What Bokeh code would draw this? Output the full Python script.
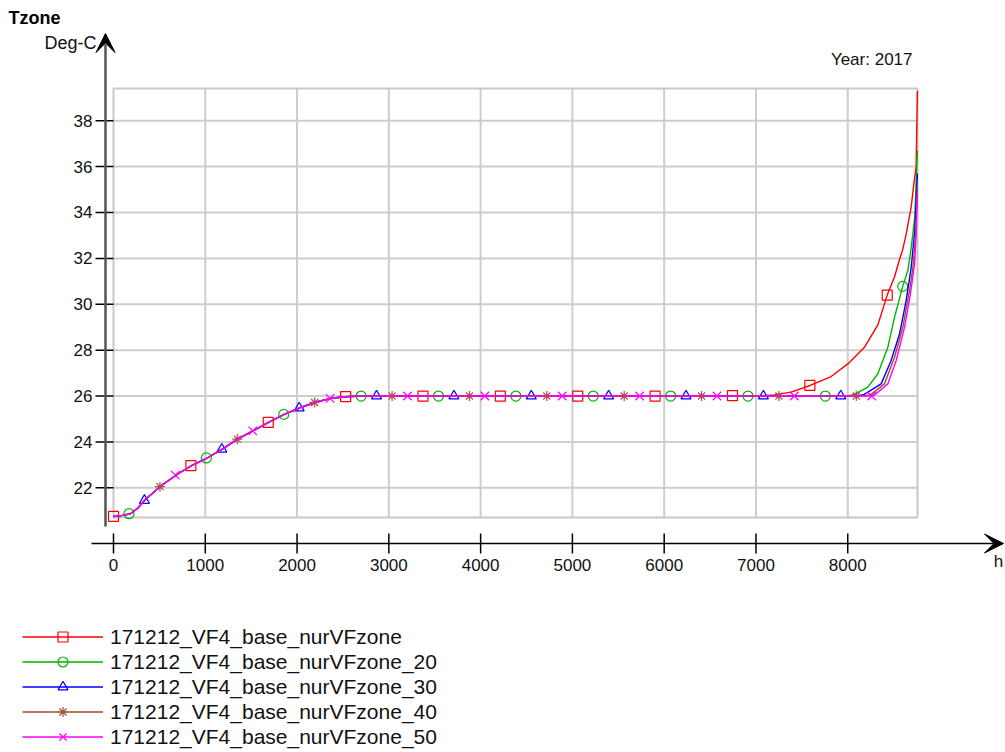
from bokeh.plotting import figure
from bokeh.models import Range1d, Legend, LegendItem, Label, Arrow, VeeHead
from bokeh.core.properties import value
from bokeh.embed import file_html
from bokeh.resources import INLINE

# ---------------- data ----------------
series_names = ["171212_VF4_base_nurVFzone", "171212_VF4_base_nurVFzone_20",
                "171212_VF4_base_nurVFzone_30", "171212_VF4_base_nurVFzone_40",
                "171212_VF4_base_nurVFzone_50"]
series_colors = ["#FF0000", "#00B400", "#0000FF", "#A0522D", "#FF00FF"]

# common start-up part (all five runs coincide), hours / deg-C
common_h = [0, 100, 185, 260, 350, 530, 700, 850, 1030, 1190, 1350, 1530, 1690,
            1860, 2040, 2210, 2370, 2530, 2700]
common_t = [20.75, 20.80, 20.87, 21.10, 21.50, 22.12, 22.60, 22.97, 23.32, 23.70,
            24.12, 24.50, 24.85, 25.20, 25.50, 25.74, 25.90, 25.97, 26.00]

# end-of-year tails of each run
red_tail_h = [7000, 7200, 7383, 7590, 7819, 8001, 8183, 8328, 8430, 8510, 8564, 8600,
              8637, 8691, 8720, 8745, 8759]
red_tail_t = [26.00, 26.05, 26.17, 26.46, 26.85, 27.40, 28.13, 29.10, 30.40, 31.20,
              31.95, 32.40, 33.07, 34.23, 35.25, 36.00, 39.30]
green_tail_h = [8000, 8070, 8219, 8328, 8437, 8510, 8599, 8655, 8691, 8730, 8759]
green_tail_t = [26.00, 26.07, 26.39, 26.97, 28.13, 29.44, 30.78, 31.47, 32.45, 33.80, 36.70]
blue_tail_h = [8100, 8180, 8364, 8473, 8564, 8637, 8691, 8730, 8759]
blue_tail_t = [26.00, 26.07, 26.53, 27.55, 28.70, 30.17, 31.60, 33.20, 35.70]
brown_tail_h = [8180, 8255, 8400, 8510, 8600, 8673, 8710, 8740, 8759]
brown_tail_t = [26.00, 26.07, 26.53, 27.69, 29.00, 30.60, 31.60, 33.00, 35.10]
pink_tail_h = [8220, 8288, 8437, 8528, 8619, 8683, 8728, 8745, 8759]
pink_tail_t = [26.00, 26.03, 26.53, 27.55, 29.00, 30.45, 31.76, 33.00, 34.80]

# marker positions of each run
red_mark_h = [0, 843, 1686, 2529, 3372, 4215, 5058, 5901, 6744, 7587, 8430]
red_mark_t = [20.75, 22.97, 24.85, 25.97, 26.0, 26.0, 26.0, 26.0, 26.02, 26.46, 30.40]
green_mark_h = [169, 1012, 1855, 2698, 3541, 4384, 5227, 6070, 6913, 7756, 8599]
green_mark_t = [20.87, 23.30, 25.20, 26.0, 26.0, 26.0, 26.0, 26.0, 26.0, 26.0, 30.78]
blue_mark_h = [337, 1180, 2023, 2866, 3709, 4552, 5395, 6238, 7081, 7924]
blue_mark_t = [21.45, 23.68, 25.48, 26.0, 26.0, 26.0, 26.0, 26.0, 26.0, 26.0]
brown_mark_h = [506, 1349, 2192, 3035, 3878, 4721, 5564, 6407, 7250, 8093]
brown_mark_t = [22.05, 24.12, 25.72, 26.0, 26.0, 26.0, 26.0, 26.0, 26.0, 26.0]
pink_mark_h = [674, 1517, 2360, 3203, 4046, 4889, 5732, 6575, 7418, 8261]
pink_mark_t = [22.55, 24.48, 25.90, 26.0, 26.0, 26.0, 26.0, 26.0, 26.0, 26.0]

x_ticks = [0, 1000, 2000, 3000, 4000, 5000, 6000, 7000, 8000]
y_ticks = [22, 24, 26, 28, 30, 32, 34, 36, 38]
x_tick_labels = [str(v) for v in x_ticks]
y_tick_labels = [str(v) for v in y_ticks]

# ---------------- layout constants ----------------
W, H = 1005, 752
FL, FR, FT, FB = 113, 917, 88, 517      # plot box edges in canvas pixels
XMIN, XMAX = 0, 8760
YMIN, YMAX = 20.705, 39.405
FONT = "Liberation Sans"


def px_x(px):
    return XMIN + (px - FL) * (XMAX - XMIN) / (FR - FL)


def px_y(py):
    return YMIN + (FB - py) * (YMAX - YMIN) / (FB - FT)


p = figure(width=W, height=H, output_backend="svg", toolbar_location=None,
           x_range=Range1d(px_x(0), px_x(W)), y_range=Range1d(px_y(H), px_y(0)),
           x_axis_location=None, y_axis_location=None,
           min_border=0, background_fill_color="white", border_fill_color="white")
p.outline_line_color = None
p.grid.visible = False

# ---------------- plot box and grid ----------------
p.segment(x0=x_ticks[1:], y0=YMIN, x1=x_ticks[1:], y1=YMAX,
          line_color="#CDCDCD", line_width=2)
p.segment(x0=XMIN, y0=y_ticks, x1=XMAX, y1=y_ticks,
          line_color="#CDCDCD", line_width=2)
p.quad(left=XMIN, right=XMAX, bottom=YMIN, top=YMAX, fill_color=None,
       line_color="#C8C8C8", line_width=2)

# ---------------- axes ----------------
p.add_layout(Arrow(x_start=px_x(105), y_start=px_y(526), x_end=px_x(105), y_end=px_y(33),
                   line_color="#555555", line_width=2.5,
                   end=VeeHead(size=19, fill_color="black", line_color="black", line_width=1)))
p.add_layout(Arrow(x_start=px_x(91), y_start=px_y(543), x_end=px_x(1003), y_end=px_y(543),
                   line_color="black", line_width=1.5,
                   end=VeeHead(size=19, fill_color="black", line_color="black", line_width=1)))

p.segment(x0=px_x(95), y0=y_ticks, x1=px_x(113), y1=y_ticks, line_color="black", line_width=1.5)
p.segment(x0=x_ticks, y0=px_y(533), x1=x_ticks, y1=px_y(553), line_color="black", line_width=1.5)

p.text(x=px_x(92), y=y_ticks, text=y_tick_labels, text_font=value(FONT),
       text_font_size="17px", text_color="#111111", text_align="right",
       text_baseline="middle")
p.text(x=x_ticks, y=px_y(564), text=x_tick_labels, text_font=value(FONT),
       text_font_size="17px", text_color="#111111", text_align="center",
       text_baseline="middle")

# ---------------- series ----------------
all_tails = [(red_tail_h, red_tail_t), (green_tail_h, green_tail_t), (blue_tail_h, blue_tail_t),
             (brown_tail_h, brown_tail_t), (pink_tail_h, pink_tail_t)]
all_marks = [(red_mark_h, red_mark_t), (green_mark_h, green_mark_t), (blue_mark_h, blue_mark_t),
             (brown_mark_h, brown_mark_t), (pink_mark_h, pink_mark_t)]
markers = ["square", "circle", "triangle", "asterisk", "x"]
msizes = [10, 10, 10, 10, 12]

items = []
for name, col, (th, tt), (mh, mt), mk, ms in zip(series_names, series_colors, all_tails,
                                                  all_marks, markers, msizes):
    xs = common_h + th
    ys = common_t + tt
    lr = p.line(xs, ys, line_color=col, line_width=1.4)
    sr = p.scatter(mh, mt, marker=mk, size=ms, line_color=col, fill_color=None,
                   line_width=1.2)
    items.append(LegendItem(label=name, renderers=[lr, sr]))

legend = Legend(items=items, location=(22, H - 749),
                glyph_width=81, glyph_height=25, label_height=25, spacing=0,
                label_standoff=7, padding=0, margin=0,
                border_line_color=None, background_fill_alpha=0,
                label_text_font=FONT, label_text_font_size="21px",
                label_text_color="#111111")
p.add_layout(legend)

# ---------------- texts ----------------
p.add_layout(Label(x=px_x(8), y=px_y(17), text="Tzone", text_font=FONT,
                   text_font_style="bold", text_font_size="18px", text_color="black",
                   text_align="left", text_baseline="middle"))
p.add_layout(Label(x=px_x(96), y=px_y(42), text="Deg-C", text_font=FONT,
                   text_font_size="18px", text_color="#111111",
                   text_align="right", text_baseline="middle"))
p.add_layout(Label(x=px_x(912), y=px_y(59), text="Year: 2017", text_font=FONT,
                   text_font_size="17px", text_color="#111111",
                   text_align="right", text_baseline="middle"))
p.add_layout(Label(x=px_x(998), y=px_y(561), text="h", text_font=FONT,
                   text_font_size="17px", text_color="#111111",
                   text_align="center", text_baseline="middle"))

open("out.html", "w").write(file_html(p, INLINE))
